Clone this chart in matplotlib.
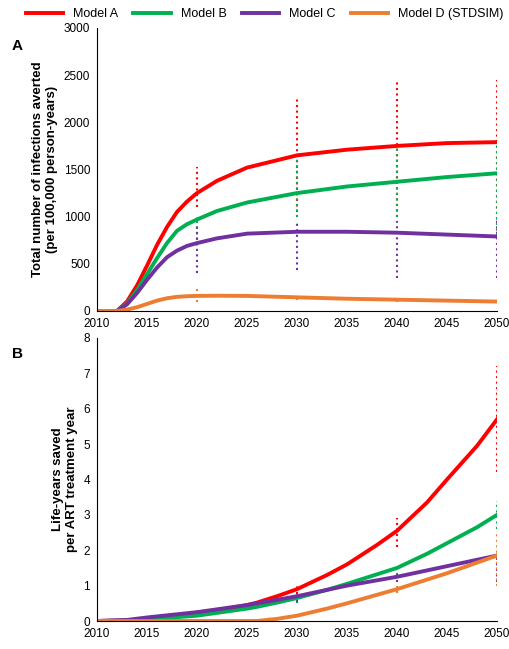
import matplotlib

matplotlib.use("Agg")
import matplotlib.pyplot as plt

plt.rcParams["font.family"] = ["Liberation Sans", "DejaVu Sans"]

COLORS = ["#ff0000", "#00b050", "#7030a0", "#ed7d31"]
MODELS = ["Model A", "Model B", "Model C", "Model D (STDSIM)"]

# panel A: infections averted
years_a = [2010, 2012, 2013, 2014, 2015, 2016, 2017, 2018, 2019, 2020, 2022, 2025, 2030, 2035, 2040, 2045, 2050]
inf_a = [0, 0, 100, 270, 480, 700, 890, 1050, 1160, 1250, 1380, 1520, 1650, 1710, 1750, 1780, 1790]
inf_b = [0, 0, 80, 220, 390, 560, 720, 850, 920, 970, 1060, 1150, 1250, 1320, 1370, 1420, 1460]
inf_c = [0, 0, 70, 190, 330, 460, 570, 640, 690, 720, 770, 820, 840, 840, 830, 810, 790]
inf_d = [0, 0, 15, 40, 75, 110, 135, 150, 157, 160, 162, 160, 145, 130, 120, 110, 100]

err_years = [2020, 2030, 2040, 2050]
inf_lo = [[1100, 1050, 1000, 800], [700, 1000, 1000, 800], [400, 430, 350, 350], [100, 120, 100, 80]]
inf_hi = [[1530, 2270, 2430, 2450], [1000, 1650, 1750, 1750], [900, 930, 950, 1000], [230, 170, 140, 120]]

# panel B: life-years saved
years_b = [2010, 2013, 2015, 2020, 2025, 2026, 2028, 2030, 2033, 2035, 2038, 2040, 2043, 2045, 2048, 2050]
ly_a = [0, 0.02, 0.06, 0.2, 0.45, 0.52, 0.7, 0.9, 1.3, 1.6, 2.15, 2.55, 3.35, 4.0, 4.95, 5.7]
ly_b = [0, 0.01, 0.05, 0.15, 0.35, 0.4, 0.52, 0.65, 0.88, 1.05, 1.32, 1.5, 1.9, 2.2, 2.65, 3.0]
ly_c = [0, 0.03, 0.1, 0.25, 0.45, 0.5, 0.6, 0.7, 0.88, 1.0, 1.15, 1.25, 1.43, 1.55, 1.73, 1.85]
ly_d = [0, 0, 0, 0, 0, 0, 0.06, 0.15, 0.35, 0.5, 0.74, 0.9, 1.17, 1.35, 1.65, 1.85]

ly_lo = [[0.15, 0.75, 2.1, 4.2], [0.1, 0.5, 1.3, 2.6], [0.15, 0.55, 1.1, 1.1], [0, 0.1, 0.8, 1.0]]
ly_hi = [[0.25, 1.0, 2.9, 7.2], [0.2, 0.75, 1.6, 3.4], [0.3, 0.85, 1.4, 1.9], [0, 0.2, 1.0, 2.5]]

fig = plt.figure(figsize=(5.09, 6.49), dpi=100)
ax1 = fig.add_axes([97 / 509, 1 - 311 / 649, 400 / 509, 283 / 649])
ax2 = fig.add_axes([97 / 509, 1 - 621 / 649, 400 / 509, 283 / 649])


def draw(ax, xs, series, lo, hi):
    for k, ys in enumerate(series):
        for j, x in enumerate(err_years):
            ax.vlines(x, lo[k][j], hi[k][j], colors=COLORS[k], linestyles=":", linewidth=1.5)
    for k, ys in enumerate(series):
        ax.plot(xs, ys, color=COLORS[k], linewidth=2.8, label=MODELS[k])
    for s in ["top", "right"]:
        ax.spines[s].set_visible(False)
    ax.set_xlim(2010, 2050)
    ax.set_xticks(range(2010, 2051, 5))
    ax.tick_params(labelsize=8.5, length=0, pad=5)


draw(ax1, years_a, [inf_a, inf_b, inf_c, inf_d], inf_lo, inf_hi)
ax1.set_ylim(0, 3000)
ax1.set_yticks(range(0, 3001, 500))
ax1.set_ylabel("Total number of infections averted\n(per 100,000 person-years)", fontsize=9.5, fontweight="bold")

draw(ax2, years_b, [ly_a, ly_b, ly_c, ly_d], ly_lo, ly_hi)
ax2.set_ylim(0, 8)
ax2.set_yticks(range(0, 9))
ax2.set_ylabel("Life-years saved\nper ART treatment year", fontsize=9.5, fontweight="bold")

fig.text(12 / 509, 1 - 50 / 649, "A", fontsize=11, fontweight="bold")
fig.text(12 / 509, 1 - 358 / 649, "B", fontsize=11, fontweight="bold")

handles, labels = ax1.get_legend_handles_labels()
fig.legend(handles, labels, loc="upper center", bbox_to_anchor=(0.52, 1.005), ncol=4,
           frameon=False, fontsize=9, handlelength=3, columnspacing=1.2)

fig.savefig("out.png", dpi=100)
